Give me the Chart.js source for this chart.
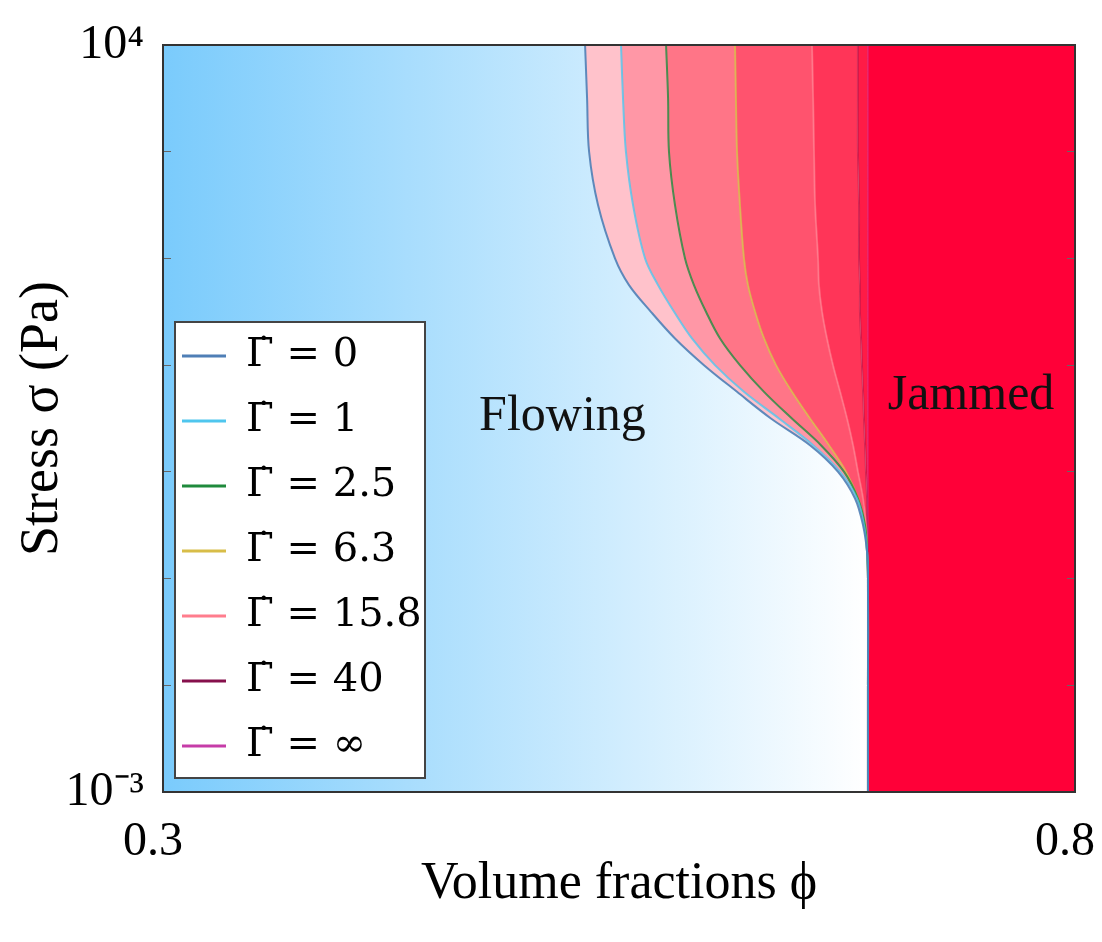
<!DOCTYPE html>
<html lang="en">
<head>
<meta charset="UTF-8">
<title>Flowing / Jammed state diagram</title>
<style>
  html, body { margin: 0; padding: 0; background: #fff; }
</style>
<script src="https://cdn.jsdelivr.net/npm/chart.js"></script>
</head>
<body>
<canvas id="chart" width="1102" height="942"></canvas>
<script>
// stress levels (Pa) shared by every curve, top of the plot downwards
const stress = [10000, 3162, 1000, 316.2, 100, 56.23, 31.62, 17.78, 10, 5.623, 3.162, 1.778, 1, 0.5623, 0.3162, 0.1778, 0.1, 0.01, 0.001];

// volume fraction of each boundary at those stress levels
const phiG0   = [0.5314, 0.5325, 0.5336, 0.5385, 0.5478, 0.5555, 0.5675, 0.5807, 0.5966, 0.6147, 0.6333, 0.6547, 0.6701, 0.6794, 0.6838, 0.6860, 0.6865, 0.6865, 0.6865];
const phiG1   = [0.5511, 0.5522, 0.5538, 0.5577, 0.5643, 0.5714, 0.5802, 0.5900, 0.6026, 0.6185, 0.6377, 0.6564, 0.6712, 0.6805, 0.6843, 0.6860, 0.6865, 0.6865, 0.6865];
const phiG2_5 = [0.5758, 0.5769, 0.5774, 0.5807, 0.5862, 0.5911, 0.5977, 0.6054, 0.6163, 0.6295, 0.6448, 0.6607, 0.6734, 0.6810, 0.6849, 0.6860, 0.6865, 0.6865, 0.6865];
const phiG6_3 = [0.6136, 0.6141, 0.6147, 0.6163, 0.6185, 0.6207, 0.6246, 0.6295, 0.6361, 0.6448, 0.6547, 0.6651, 0.6745, 0.6810, 0.6849, 0.6860, 0.6865, 0.6865, 0.6865];
const phiG15  = [0.6558, 0.6564, 0.6569, 0.6575, 0.6591, 0.6596, 0.6613, 0.6640, 0.6673, 0.6712, 0.6750, 0.6783, 0.6810, 0.6838, 0.6854, 0.6860, 0.6865, 0.6865, 0.6865];
const phiG40  = [0.6810, 0.6810, 0.6810, 0.6816, 0.6816, 0.6821, 0.6821, 0.6827, 0.6832, 0.6838, 0.6843, 0.6849, 0.6854, 0.6860, 0.6860, 0.6865, 0.6865, 0.6865, 0.6865];
const phiGInf = [0.6865, 0.6865, 0.6865, 0.6865, 0.6865, 0.6865, 0.6865, 0.6865, 0.6865, 0.6865, 0.6865, 0.6865, 0.6865, 0.6865, 0.6865, 0.6865, 0.6865, 0.6865, 0.6865];

const gammaValues = ['0', '1', '2.5', '6.3', '15.8', '40', '\u221E'];
const phiSeries = [phiG0, phiG1, phiG2_5, phiG6_3, phiG15, phiG40, phiGInf];

const xTicks = [0.3, 0.8];
const yTicks = [0.001, 0.01, 0.1, 1, 10, 100, 1000, 10000];
const yTickLabels = ['10\u207B\u00B3', '', '', '', '', '', '', '10\u2074'];

const lineColors = ['#4f7fb6', '#4fc6ee', '#1f8a3c', '#d8bd48', '#ff7d8d', '#86104c', '#c63ca8'];
const lineAlpha  = [0.9, 0.8, 0.8, 0.8, 0.7, 0.35, 0.35];
const bandColors = ['#ffc2cb', '#ff97a6', '#ff7587', '#ff536e', '#ff3558', '#ff1b46', '#ff0038'];

const FONT = '"Liberation Serif", "Times New Roman", serif';
Chart.defaults.font.family = FONT;
Chart.defaults.color = '#000';

function withAlpha(hex, a) {
  const n = parseInt(hex.slice(1), 16);
  return `rgba(${n >> 16}, ${(n >> 8) & 255}, ${n & 255}, ${a})`;
}

const datasets = phiSeries.map((phi, i) => ({
  label: '\u0393\u0307 = ' + gammaValues[i],
  data: phi.map((p, k) => ({ x: p, y: stress[k] })),
  borderColor: withAlpha(lineColors[i], lineAlpha[i]),
  backgroundColor: bandColors[i],
  borderWidth: 2,
  pointRadius: 0,
  tension: 0.35,
  fill: i < phiSeries.length - 1 ? '+1' : { value: 0.8 }
}));

// blue "flowing" gradient + white legend box, under everything
const backdrop = {
  id: 'backdrop',
  beforeDraw(chart) {
    const { ctx, chartArea: a, scales } = chart;
    const x0 = scales.x.getPixelForValue(0.3);
    const x1 = scales.x.getPixelForValue(0.6865);
    const g = ctx.createLinearGradient(x0, 0, x1, 0);
    g.addColorStop(0, '#7acbfc');
    g.addColorStop(1, '#ffffff');
    ctx.save();
    ctx.fillStyle = g;
    ctx.fillRect(a.left, a.top, a.width, a.height);
    ctx.fillStyle = '#fff';
    ctx.fillRect(a.left + 12, a.top + 277, 250, 456);
    ctx.strokeStyle = '#444';
    ctx.lineWidth = 2;
    ctx.strokeRect(a.left + 12, a.top + 277, 250, 456);
    ctx.restore();
  },
  afterDatasetsDraw(chart) {
    const { ctx, scales } = chart;
    ctx.save();
    ctx.font = '50px ' + FONT;
    ctx.fillStyle = '#111';
    ctx.textAlign = 'center';
    ctx.textBaseline = 'middle';
    ctx.fillText('Flowing', scales.x.getPixelForValue(0.519), scales.y.getPixelForValue(3.3));
    ctx.fillText('Jammed', scales.x.getPixelForValue(0.743), scales.y.getPixelForValue(5.2));
    ctx.restore();
  },
  afterDraw(chart) {
    const { ctx, chartArea: a } = chart;
    ctx.save();
    ctx.strokeStyle = '#333';
    ctx.lineWidth = 2;
    ctx.strokeRect(a.left, a.top, a.width, a.height);
    ctx.restore();
  }
};

// move the built-in legend into the box at the lower left of the plot
const placeLegend = {
  id: 'placeLegend',
  afterUpdate(chart) {
    const lg = chart.legend;
    const a = chart.chartArea;
    lg.left = a.left - 6;
    lg.top = a.top + 266;
    lg.width = 300;
    lg.height = 520;
    lg.right = lg.left + lg.width;
    lg.bottom = lg.top + lg.height;
  }
};

const decadeTicks = scale => { scale.ticks = yTicks.map(v => ({ value: v })); };

new Chart(document.getElementById('chart'), {
  type: 'line',
  data: { datasets },
  options: {
    responsive: false,
    animation: false,
    indexAxis: 'y',
    layout: { padding: { top: 45, right: 27, left: 0, bottom: 0 } },
    scales: {
      x: {
        type: 'linear',
        min: 0.3,
        max: 0.8,
        afterBuildTicks: scale => { scale.ticks = xTicks.map(v => ({ value: v })); },
        afterFit: scale => { scale.height = 150; scale.paddingLeft = 0; scale.paddingRight = 0; },
        grid: { drawOnChartArea: false, drawTicks: false },
        border: { display: false },
        ticks: { font: { size: 48 }, padding: 22, maxRotation: 0, labelOffset: -10, callback: v => v.toFixed(1) },
        title: { display: true, text: 'Volume fractions \u03D5', font: { size: 52 }, padding: { top: 0, bottom: 26 } }
      },
      y: {
        type: 'logarithmic',
        min: 0.001,
        max: 10000,
        afterBuildTicks: decadeTicks,
        afterFit: scale => { scale.width = 163; scale.paddingTop = 0; scale.paddingBottom = 0; },
        grid: { drawOnChartArea: false, drawTicks: true, tickLength: -8, color: '#666', z: 1 },
        border: { display: false },
        ticks: { font: { size: 48 }, padding: 27, callback: (v, i) => yTickLabels[i] },
        title: { display: true, text: 'Stress \u03C3 (Pa)', font: { size: 54 }, padding: { top: 10, bottom: 0 } }
      },
      y2: {
        type: 'logarithmic',
        position: 'right',
        min: 0.001,
        max: 10000,
        afterBuildTicks: decadeTicks,
        afterFit: scale => { scale.width = 0; scale.paddingTop = 0; scale.paddingBottom = 0; },
        grid: { drawOnChartArea: false, drawTicks: true, tickLength: -8, color: '#666', z: 1 },
        border: { display: false },
        ticks: { display: false }
      }
    },
    plugins: {
      filler: { drawTime: 'beforeDatasetsDraw' },
      tooltip: { enabled: false },
      legend: {
        position: 'chartArea',
        align: 'start',
        onClick: null,
        labels: {
          font: { size: 40, family: '"DejaVu Serif", serif' },
          color: '#000',
          boxWidth: 44,
          boxHeight: 3,
          padding: 25,
          generateLabels: chart => chart.data.datasets.map((ds, i) => ({
            text: ds.label,
            fillStyle: lineColors[i],
            strokeStyle: lineColors[i],
            lineWidth: 0,
            hidden: false,
            datasetIndex: i,
            fontColor: '#000'
          }))
        }
      }
    }
  },
  plugins: [backdrop, placeLegend]
});
</script>
</body>
</html>
